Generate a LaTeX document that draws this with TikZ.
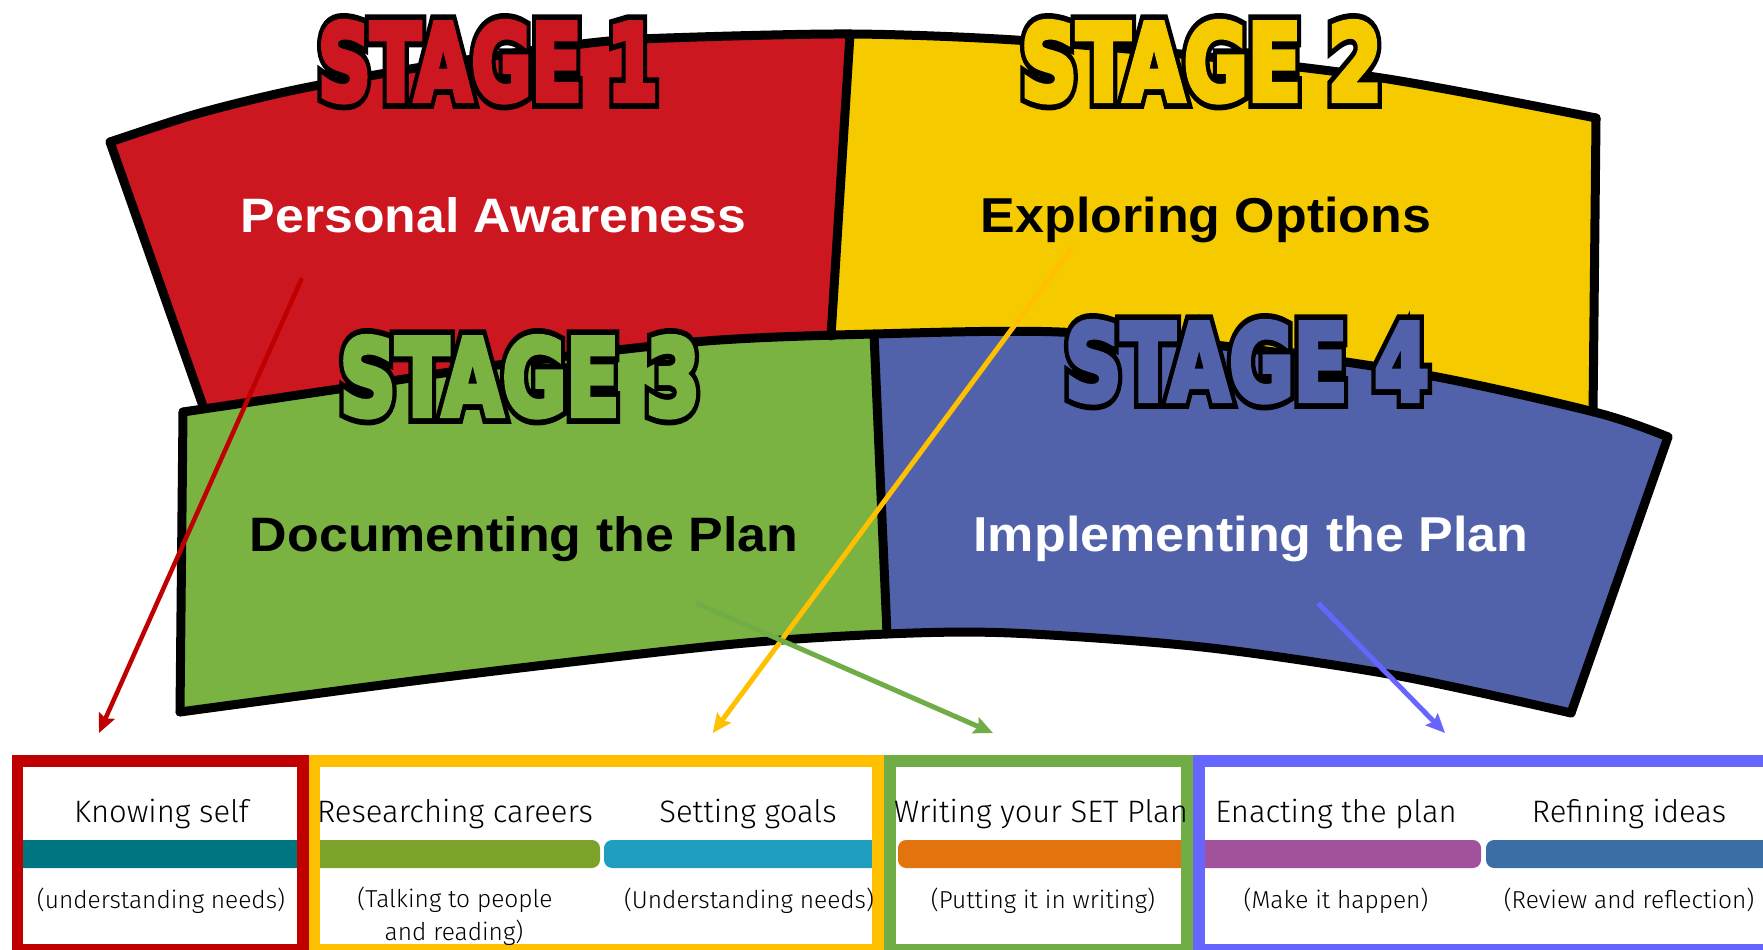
\documentclass[tikz,border=0pt]{standalone}
\usepackage{fontspec}
\usepackage{graphicx}
\usetikzlibrary{arrows.meta}
\newfontfamily\boxfont{Fira Sans Light}
\newfontfamily\panelfont{Liberation Sans}
\newfontfamily\stageK{DejaVu Sans}[FakeBold=17]
\newfontfamily\stageC{DejaVu Sans}[FakeBold=6]
\newlength\pxu \setlength\pxu{0.1mm}

\definecolor{pRed}{HTML}{CC1620}
\definecolor{pYellow}{HTML}{F5CB00}
\definecolor{pGreen}{HTML}{7AB342}
\definecolor{pBlue}{HTML}{5262AA}
\definecolor{bRed}{HTML}{C00000}
\definecolor{bYellow}{HTML}{FFC000}
\definecolor{bGreen}{HTML}{70AD47}
\definecolor{bBlue}{HTML}{6666FF}
\definecolor{barTeal}{HTML}{007582}
\definecolor{barOlive}{HTML}{7DA22C}
\definecolor{barCyan}{HTML}{1F9EC0}
\definecolor{barOrange}{HTML}{E3730C}
\definecolor{barPurple}{HTML}{A2519C}
\definecolor{barSteel}{HTML}{3A6EA5}

\tikzset{
  panelline/.style={draw=black, line width=2.56pt, line cap=round, line join=round},
  stagetxt/.style={anchor=base, inner sep=0pt, outer sep=0pt},
  ptext/.style={anchor=base, inner sep=0pt, outer sep=0pt},
  ttl/.style={anchor=base, inner sep=0pt, outer sep=0pt, text=black,
    font=\boxfont\fontsize{31\pxu}{36\pxu}\selectfont},
  sub/.style={anchor=base, inner sep=0pt, outer sep=0pt, text=black,
    font=\boxfont\fontsize{24.5\pxu}{30\pxu}\selectfont},
  boxline/.style={line width=3.41pt},
  bar/.style={rounded corners=2.3pt},
  arr/.style={-{Stealth[length=5.4pt,width=4.8pt,inset=0.85pt]}, line width=1.42pt},
}

\newcommand{\stagelabel}[5]{%
  \node[stagetxt,text=black] (#1k) at (#2) {\resizebox{#4\pxu}{78\pxu}{\stageK\bfseries\fontsize{110\pxu}{120\pxu}\selectfont #5}};
  \node[stagetxt,text=#3] (#1) at (#2) {\resizebox{#4\pxu}{78\pxu}{\stageC\bfseries\fontsize{110\pxu}{120\pxu}\selectfont #5}};
}

\begin{document}
\begin{tikzpicture}[x=0.1mm, y=-0.1mm]
\useasboundingbox (0,0) rectangle (1763,950);
\fill[white] (0,0) rectangle (1763,950);

% ---------- panel fills ----------
\fill[pRed] plot[smooth] coordinates {(110,142) (200,113) (304,88) (447,63) (590,43) (667,38) (850,34)}
  -- (831,336) -- plot[smooth] coordinates {(831,336) (706,341) (520,362) (332,390) (203,408)} -- cycle;
\fill[pYellow] plot[smooth] coordinates {(850,34) (1015,40) (1200,56) (1388,79) (1596,118)}
  -- (1592,412) -- plot[smooth] coordinates {(1592,412) (1432,376) (1250,349) (1059,332) (874,334)} -- (831,336) -- cycle;
\fill[pGreen] plot[smooth] coordinates {(183,412) (332,390) (520,362) (706,341) (874,334)}
  -- (887,634) -- plot[smooth] coordinates {(887,634) (724,645) (437,678) (180,712)} -- cycle;
\fill[pBlue] plot[smooth] coordinates {(874,334) (1059,332) (1250,349) (1432,376) (1598,413) (1668,437)}
  -- (1571,713) -- plot[smooth] coordinates {(1571,713) (1394,675) (1202,647) (1011,633) (887,634)} -- cycle;

% ---------- panel outlines ----------
\draw[panelline] plot[smooth] coordinates {(110,142) (200,113) (304,88) (447,63) (590,43) (667,38) (850,34) (1015,40) (1200,56) (1388,79) (1596,118)};
\draw[panelline] (110,142) -- (203,406);
\draw[panelline] (850,34) -- (831,336);
\draw[panelline] (1596,118) -- (1593,412);
\draw[panelline] plot[smooth] coordinates {(183,412) (332,390) (520,362) (706,341) (874,334) (1059,332) (1250,349) (1432,376) (1598,413) (1668,437)};
\draw[panelline] (183,412) -- (180,712);
\draw[panelline] (874,334) -- (887,634);
\draw[panelline] (1668,437) -- (1571,713);
\draw[panelline] plot[smooth] coordinates {(180,712) (437,678) (724,645) (887,634) (1011,633) (1202,647) (1394,675) (1571,713)};

% ---------- stage labels ----------
\stagelabel{s1}{488,100}{pRed}{340}{STAGE 1}
\stagelabel{s2}{1201.5,100}{pYellow}{361}{STAGE 2}
\stagelabel{s3}{520,415}{pGreen}{360}{STAGE 3}
\stagelabel{s4}{1247,400}{pBlue}{364}{STAGE 4}

% ---------- panel texts ----------
\node[ptext,text=white] (t1) at (493.5,233) {\resizebox{505\pxu}{35\pxu}{\panelfont\bfseries Personal Awareness}};
\node[ptext,text=black] (t2) at (1206,233) {\resizebox{450\pxu}{35.5\pxu}{\panelfont\bfseries Exploring Options}};
\node[ptext,text=black] (t3) at (524,551.7) {\resizebox{548\pxu}{35\pxu}{\panelfont\bfseries Documenting the Plan}};
\node[ptext,text=white] (t4) at (1251,551.7) {\resizebox{555\pxu}{35.5\pxu}{\panelfont\bfseries Implementing the Plan}};

% ---------- arrows ----------
\coordinate (ra) at (302,278);   \coordinate (rb) at (99,733);
\coordinate (ya) at (1072.6,247); \coordinate (yb) at (712.7,733);
\coordinate (ga) at (696,603);   \coordinate (gb) at (993,733);
\coordinate (ba) at (1318,603);  \coordinate (bb) at (1445,733);
\draw[arr, bRed, line width=1.28pt] (ra) -- (rb);
\draw[arr, bYellow] (ya) -- (yb);
\draw[arr, bGreen] (ga) -- (gb);
\draw[arr, bBlue] (ba) -- (bb);

% ---------- bars ----------
\fill[bar, barTeal] (14,840) rectangle (306,868);
\fill[bar, barOlive] (310,840) rectangle (600,868);
\fill[bar, barCyan] (604,840) rectangle (882,868);
\fill[bar, barOrange] (898,840) rectangle (1190,868);
\fill[bar, barPurple] (1192,840) rectangle (1481,868);
\fill[bar, barSteel] (1486,840) rectangle (1800,868);

% ---------- boxes ----------
\draw[boxline, bRed] (17.5,761) rectangle (303,950);
\draw[boxline, bYellow] (314.5,761) rectangle (878,950);
\draw[boxline, bGreen] (890,761) rectangle (1187,950);
\draw[boxline, bBlue] (1199,761) rectangle (1790,950);

% ---------- box texts ----------
\node[ttl] (k1) at (161.5,822) {Knowing self};
\node[ttl] (k2) at (455,822) {Researching careers};
\node[ttl] (k3) at (748,822) {Setting goals};
\node[ttl] (k4) at (1041,822) {Writing your SET Plan};
\node[ttl] (k5) at (1336,822) {Enacting the plan};
\node[ttl] (k6) at (1629,822) {Refining ideas};

\node[sub] (d1) at (161,908) {(understanding needs)};
\node[sub] (d2) at (455,907) {(Talking to people};
\node[sub] (d2b) at (454,940) {and reading)};
\node[sub] (d3) at (749,908) {(Understanding needs)};
\node[sub] (d4) at (1043,908) {(Putting it in writing)};
\node[sub] (d5) at (1336,908) {(Make it happen)};
\node[sub] (d6) at (1629,908) {(Review and reflection)};
\end{tikzpicture}
\end{document}
